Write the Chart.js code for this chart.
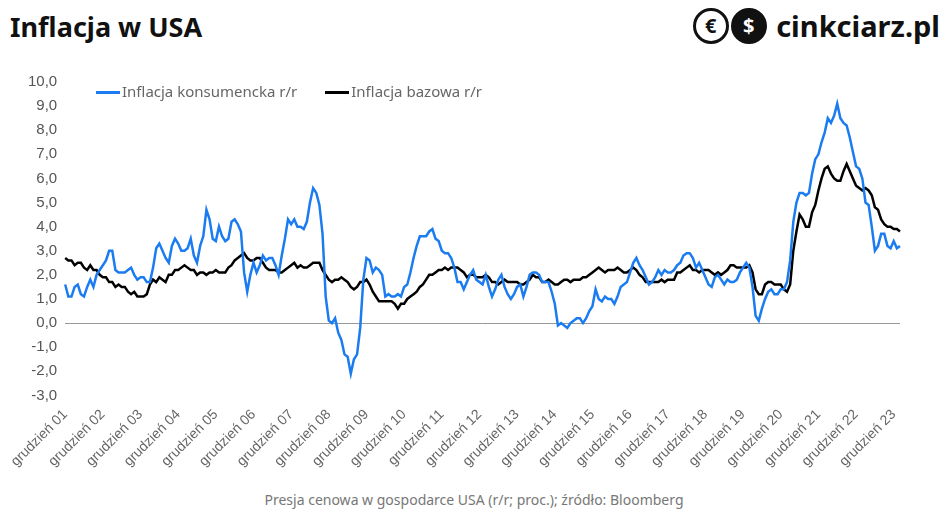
<!DOCTYPE html>
<html><head><meta charset="utf-8">
<script src="https://cdn.jsdelivr.net/npm/chart.js@4"></script>
<style>
body{margin:0;width:948px;height:521px;background:#fff;font-family:"Noto Sans",sans-serif;position:relative;overflow:hidden}
#title{position:absolute;left:10px;top:8px;font-size:27px;font-weight:bold;color:#111}
#logo{position:absolute;right:8px;top:6px;display:flex;align-items:center;font-size:29px;font-weight:bold;color:#111}
.c{width:30px;height:30px;border:3px solid #111;border-radius:50%;display:flex;align-items:center;justify-content:center;font-size:20px;margin-right:2px}
.c2{background:#111;color:#fff}
#foot{position:absolute;left:0;width:948px;top:490px;text-align:center;font-size:14px;color:#777}
#wrap{position:absolute;left:0;top:65px;width:948px;height:408px}
#leg{position:absolute;left:96px;top:81px;font-size:15px;color:#666;display:flex;gap:28px}
#leg span{display:inline-block;width:24px;height:3px;vertical-align:middle;margin-right:2px}
</style></head><body>
<div id="title">Inflacja w USA</div>
<div id="logo"><span class="c">€</span><span class="c c2">$</span>&nbsp;cinkciarz.pl</div>
<div id="wrap"><canvas id="ch"></canvas></div>
<div id="leg"><div><span style="background:#1a7cf0"></span>Inflacja konsumencka r/r</div><div><span style="background:#000"></span>Inflacja bazowa r/r</div></div>
<div id="foot">Presja cenowa w gospodarce USA (r/r; proc.); źródło: Bloomberg</div>
<script>
const months = ["styczeń","luty","marzec","kwiecień","maj","czerwiec","lipiec","sierpień","wrzesień","październik","listopad","grudzień"];
const cpi = [1.6,
1.1,1.1,1.5,1.6,1.2,1.1,1.5,1.8,1.5,2.0,2.2,2.4,
2.6,3.0,3.0,2.2,2.1,2.1,2.1,2.2,2.3,2.0,1.8,1.9,
1.9,1.7,1.7,2.3,3.1,3.3,3.0,2.7,2.5,3.2,3.5,3.3,
3.0,3.0,3.1,3.5,2.8,2.5,3.2,3.6,4.7,4.3,3.5,3.4,
4.0,3.6,3.4,3.5,4.2,4.3,4.1,3.8,2.1,1.3,2.0,2.5,
2.1,2.4,2.8,2.6,2.7,2.7,2.4,2.0,2.8,3.5,4.3,4.1,
4.3,4.0,4.0,3.9,4.2,5.0,5.6,5.4,4.9,3.7,1.1,0.1,
0.0,0.2,-0.4,-0.7,-1.3,-1.4,-2.1,-1.5,-1.3,-0.2,1.8,2.7,
2.6,2.1,2.3,2.2,2.0,1.1,1.2,1.1,1.1,1.2,1.1,1.5,
1.6,2.1,2.7,3.2,3.6,3.6,3.6,3.8,3.9,3.5,3.4,3.0,
2.9,2.9,2.7,2.3,1.7,1.7,1.4,1.7,2.0,2.2,1.8,1.7,
1.6,2.0,1.5,1.1,1.4,1.8,2.0,1.5,1.2,1.0,1.2,1.5,
1.6,1.1,1.5,2.0,2.1,2.1,2.0,1.7,1.7,1.7,1.3,0.8,
-0.1,0.0,-0.1,-0.2,0.0,0.1,0.2,0.2,0.0,0.2,0.5,0.7,
1.4,1.0,0.9,1.1,1.0,1.0,0.8,1.1,1.5,1.6,1.7,2.1,
2.5,2.7,2.4,2.2,1.9,1.6,1.7,1.9,2.2,2.0,2.2,2.1,
2.1,2.2,2.4,2.5,2.8,2.9,2.9,2.7,2.3,2.5,2.2,1.9,
1.6,1.5,1.9,2.0,1.8,1.6,1.8,1.7,1.7,1.8,2.1,2.3,
2.5,2.3,1.5,0.3,0.1,0.6,1.0,1.3,1.4,1.2,1.2,1.4,
1.4,1.7,2.6,4.2,5.0,5.4,5.4,5.3,5.4,6.2,6.8,7.0,
7.5,7.9,8.5,8.3,8.6,9.1,8.5,8.3,8.2,7.7,7.1,6.5,
6.4,6.0,5.0,4.9,4.0,3.0,3.2,3.7,3.7,3.2,3.1,3.4,
3.1,3.2];
const core = [2.7,
2.6,2.6,2.4,2.5,2.5,2.3,2.2,2.4,2.2,2.2,2.0,1.9,
1.9,1.7,1.7,1.5,1.6,1.5,1.5,1.3,1.2,1.3,1.1,1.1,
1.1,1.2,1.6,1.8,1.7,1.9,1.8,1.7,2.0,2.0,2.2,2.2,
2.3,2.4,2.3,2.2,2.2,2.0,2.1,2.1,2.0,2.1,2.1,2.2,
2.1,2.1,2.1,2.3,2.4,2.6,2.7,2.8,2.9,2.7,2.6,2.6,
2.7,2.7,2.5,2.3,2.2,2.2,2.2,2.1,2.1,2.2,2.3,2.4,
2.5,2.3,2.4,2.3,2.3,2.4,2.5,2.5,2.5,2.2,2.0,1.8,
1.7,1.8,1.8,1.9,1.8,1.7,1.5,1.4,1.5,1.7,1.7,1.8,
1.6,1.3,1.1,0.9,0.9,0.9,0.9,0.9,0.8,0.6,0.8,0.8,
1.0,1.1,1.2,1.3,1.5,1.6,1.8,2.0,2.0,2.1,2.2,2.2,
2.3,2.2,2.3,2.3,2.3,2.2,2.1,1.9,2.0,2.0,1.9,1.9,
1.9,2.0,1.9,1.7,1.7,1.6,1.7,1.8,1.7,1.7,1.7,1.7,
1.6,1.6,1.7,1.8,2.0,1.9,1.9,1.7,1.7,1.8,1.7,1.6,
1.6,1.7,1.8,1.8,1.7,1.8,1.8,1.8,1.9,1.9,2.0,2.1,
2.2,2.3,2.2,2.1,2.2,2.2,2.2,2.3,2.2,2.1,2.1,2.2,
2.3,2.2,2.0,1.9,1.7,1.7,1.7,1.7,1.7,1.8,1.7,1.8,
1.8,1.8,2.1,2.1,2.2,2.3,2.4,2.2,2.2,2.1,2.2,2.2,
2.2,2.1,2.0,2.1,2.0,2.1,2.2,2.4,2.4,2.3,2.3,2.3,
2.3,2.4,2.1,1.4,1.2,1.2,1.6,1.7,1.7,1.6,1.6,1.6,
1.4,1.3,1.6,3.0,3.8,4.5,4.3,4.0,4.0,4.6,4.9,5.5,
6.0,6.4,6.5,6.2,6.0,5.9,5.9,6.3,6.6,6.3,6.0,5.7,
5.6,5.5,5.6,5.5,5.3,4.8,4.7,4.3,4.1,4.0,4.0,3.9,
3.9,3.8];
const labels = cpi.map((_, i) => {
  const m = (i + 11) % 12, y = 1 + Math.floor((i + 11) / 12);
  return months[m] + " " + String(y).padStart(2, "0");
});
new Chart(document.getElementById("ch"), {
  type: "line",
  data: { labels, datasets: [
    { label: "Inflacja konsumencka r/r", data: cpi, borderColor: "#1a7cf0", borderWidth: 2.5, pointRadius: 0, tension: 0 },
    { label: "Inflacja bazowa r/r", data: core, borderColor: "#000", borderWidth: 2.5, pointRadius: 0, tension: 0 }
  ]},
  options: {
    responsive: true, maintainAspectRatio: false, animation: false,
    layout: { padding: { left: 20, right: 48, top: 6, bottom: 0 } },
    plugins: { legend: { display: false }, tooltip: { enabled: false } },
    scales: {
      y: { min: -3, max: 10, ticks: { stepSize: 1, padding: 8, color: "#555", font: { size: 15 }, callback: v => v.toFixed(1).replace(".", ",") },
           grid: { color: c => c.tick.value === 0 ? "#999" : "transparent", drawTicks: false }, border: { display: false } },
      x: { grid: { display: false }, border: { display: false },
           ticks: { autoSkip: false, maxRotation: 45, minRotation: 45, color: "#666", font: { size: 14 },
                    callback: function (v) { const l = this.getLabelForValue(v); return l.startsWith("grudzień") ? l : null; } } }
    }
  }
});
</script>
</body></html>
